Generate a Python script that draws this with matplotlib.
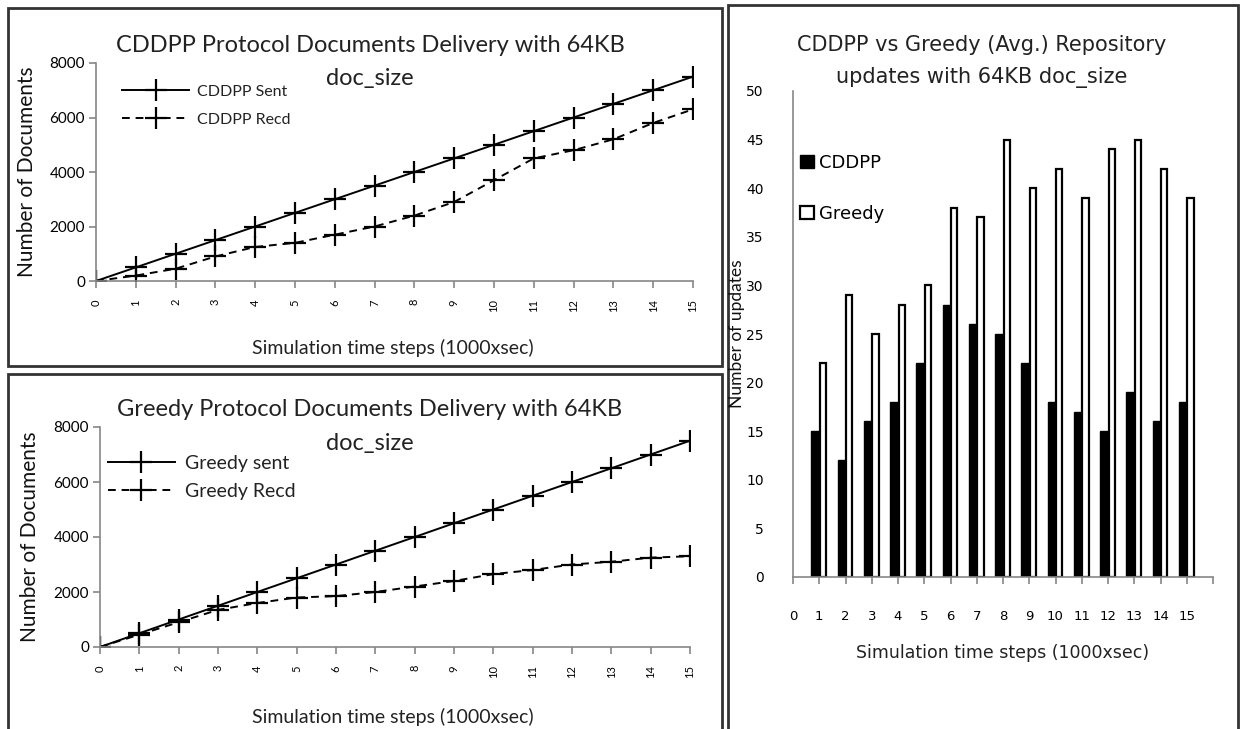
import matplotlib
matplotlib.use("Agg")
import matplotlib.pyplot as plt
from matplotlib.patches import Rectangle
import numpy as np

steps = list(range(16))
cddpp_sent = [0, 500, 1000, 1500, 2000, 2500, 3000, 3500, 4000, 4500, 5000, 5500, 6000, 6500, 7000, 7500]
cddpp_recd = [0, 200, 450, 900, 1250, 1400, 1700, 2000, 2400, 2900, 3700, 4500, 4800, 5200, 5800, 6300]
greedy_sent = [0, 500, 1000, 1500, 2000, 2500, 3000, 3500, 4000, 4500, 5000, 5500, 6000, 6500, 7000, 7500]
greedy_recd = [0, 450, 900, 1350, 1600, 1800, 1850, 2000, 2200, 2400, 2650, 2800, 3000, 3100, 3250, 3300]

bar_steps = list(range(1, 16))
bar_cddpp = [15, 12, 16, 18, 22, 28, 26, 25, 22, 18, 17, 15, 19, 16, 18]
bar_greedy = [22, 29, 25, 28, 30, 38, 37, 45, 40, 42, 39, 44, 45, 42, 39]
bar_xlabels = [str(i) for i in range(16)]

W, H = 1243, 729
fig = plt.figure(figsize=(W / 100, H / 100), dpi=100)
FONT = ['Lato', 'DejaVu Sans']
plt.rcParams['font.family'] = FONT

def fx(px):
    return px / W

def fy(py):
    return 1 - py / H

# panel borders
for (x0, y0, x1, y1) in [(8, 8, 722, 366), (8, 374, 722, 740), (728, 5, 1238, 740)]:
    fig.patches.append(Rectangle((fx(x0), fy(y1)), fx(x1) - fx(x0), fy(y0) - fy(y1),
                                 transform=fig.transFigure, fill=False,
                                 edgecolor='#333333', linewidth=2))

GRAY = '#868686'

def style_axes(ax):
    for s in ['top', 'right']:
        ax.spines[s].set_visible(False)
    for s in ['left', 'bottom']:
        ax.spines[s].set_color(GRAY)
        ax.spines[s].set_linewidth(1.2)
    ax.tick_params(axis='both', colors=GRAY, length=5, width=1.2, direction='out')

def line_panel(rect, sent, recd, labels, title_ys, titles, xlab_y, ylab_x, leg_font, leg_pos,
               leg_space, leg_hl):
    ax = fig.add_axes(rect)
    style_axes(ax)
    ax.plot(steps, sent, color='black', linewidth=1.4, marker='+', markersize=16,
            markeredgewidth=1.6, label=labels[0])
    ax.plot(steps, recd, color='black', linewidth=1.4, linestyle=(0, (4, 3)), marker='+',
            markersize=16, markeredgewidth=1.6, label=labels[1])
    ax.set_xlim(0, 15)
    ax.set_ylim(0, 8000)
    ax.set_xticks(steps)
    ax.set_xticklabels([str(s) for s in steps], rotation=90, fontsize=8, color='black')
    ax.set_yticks([0, 2000, 4000, 6000, 8000])
    ax.set_yticklabels(['0', '2000', '4000', '6000', '8000'], fontsize=11, color='black')
    ax.tick_params(axis='x', pad=8)
    ax.tick_params(axis='y', pad=3)
    leg = ax.legend(loc='upper left', bbox_to_anchor=leg_pos, frameon=False,
                    fontsize=leg_font, handlelength=leg_hl, labelspacing=leg_space,
                    handletextpad=0.5, borderaxespad=0)
    for t in leg.get_texts():
        t.set_color('#222222')
    for ty, tt in zip(title_ys, titles):
        fig.text(fx(370), fy(ty), tt, ha='center', va='center',
                 fontsize=17, color='#222222')
    fig.text(fx(393), fy(xlab_y), 'Simulation time steps (1000xsec)', ha='center', va='center',
             fontsize=14, color='#222222')
    fig.text(fx(ylab_x), (rect[1] + rect[3] / 2), 'Number of Documents', rotation=90,
             ha='center', va='center', fontsize=15, color='#111111')
    return ax

line_panel([fx(96), fy(281), fx(693) - fx(96), fy(63) - fy(281)],
           cddpp_sent, cddpp_recd, ['CDDPP Sent', 'CDDPP Recd'],
           (45, 78), ['CDDPP Protocol Documents Delivery with 64KB', 'doc_size'],
           348, 27, 11.5, (0.033, 0.93), 0.85, 4.2)

line_panel([fx(100), fy(647), fx(690) - fx(100), fy(427) - fy(647)],
           greedy_sent, greedy_recd, ['Greedy sent', 'Greedy Recd'],
           (410, 443), ['Greedy Protocol Documents Delivery with 64KB', 'doc_size'],
           717, 30, 14, (0.0, 0.91), 0.6, 3.45)

# bar chart
ax3 = fig.add_axes([fx(793), fy(577), fx(1213) - fx(793), fy(91) - fy(577)])
style_axes(ax3)
bx = np.array(bar_steps)
bw = 0.3
ax3.bar(bx - bw, bar_cddpp, width=bw, align='edge', color='black', edgecolor='black',
        linewidth=1, label='CDDPP')
ax3.bar(bx + 0.02, bar_greedy, width=bw - 0.06, align='edge', color='white', edgecolor='black',
        linewidth=1.6, label='Greedy')
ax3.set_xlim(0, 16)
ax3.set_ylim(0, 50)
ax3.set_xticks(range(17))
ax3.set_xticklabels(bar_xlabels + [''], fontsize=9.5, family=['DejaVu Sans'], color='black')
ax3.tick_params(axis='x', pad=19, length=5)
ax3.set_yticks(range(0, 51, 5))
ax3.set_yticklabels([str(v) for v in range(0, 51, 5)], fontsize=10, family=['DejaVu Sans'],
                    color='black')
ax3.tick_params(axis='y', pad=21, length=0)
leg3 = ax3.legend(loc='upper left', bbox_to_anchor=(0.0, 0.885), frameon=False,
                  prop={'family': 'DejaVu Sans', 'size': 13}, handlelength=0.75,
                  handleheight=0.75, labelspacing=1.8, handletextpad=0.3, borderaxespad=0)
fig.text(fx(982), fy(45), 'CDDPP vs Greedy (Avg.) Repository', ha='center', va='center',
         fontsize=15, family=['DejaVu Sans'], color='#222222')
fig.text(fx(982), fy(77), 'updates with 64KB doc_size', ha='center', va='center',
         fontsize=15, family=['DejaVu Sans'], color='#222222')
fig.text(fx(1003), fy(653), 'Simulation time steps (1000xsec)', ha='center', va='center',
         fontsize=12.5, family=['DejaVu Sans'], color='#222222')
fig.text(fx(737), (fy(577) + fy(91)) / 2, 'Number of updates', rotation=90, ha='center',
         va='center', fontsize=12.5, color='#111111')

fig.savefig('out.png', dpi=100, facecolor='white')
